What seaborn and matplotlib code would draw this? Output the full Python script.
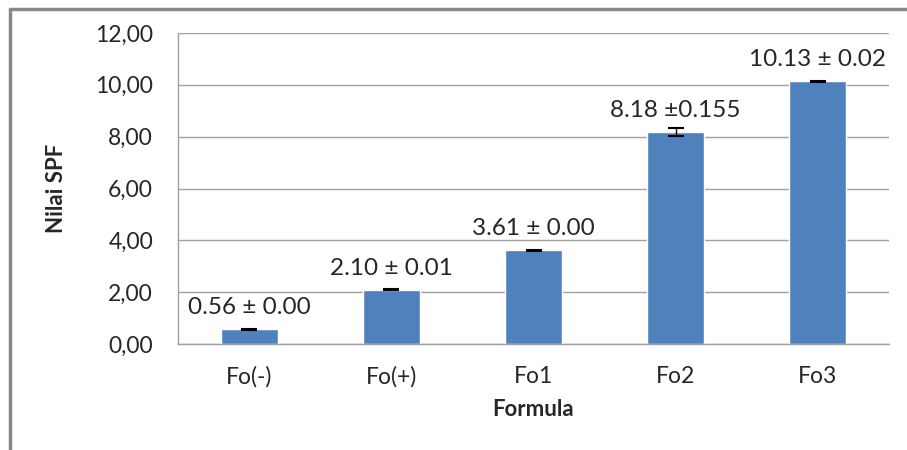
import numpy as np
import pandas as pd
import matplotlib
matplotlib.use("Agg")
import matplotlib.pyplot as plt
from matplotlib.lines import Line2D
import seaborn as sns

# data
formulas = ["Fo(-)", "Fo(+)", "Fo1", "Fo2", "Fo3"]
spf_values = [0.56, 2.10, 3.61, 8.18, 10.13]
spf_errors = [0.005, 0.01, 0.005, 0.155, 0.02]
value_labels = ["0.56 \u00b1 0.00", "2.10 \u00b1 0.01", "3.61 \u00b1 0.00",
                "8.18 \u00b10.155", "10.13 \u00b1 0.02"]
y_ticks = [0, 2, 4, 6, 8, 10, 12]

df = pd.DataFrame({"Formula": formulas, "Nilai SPF": spf_values})

sns.set_style("white")
plt.rcParams["font.family"] = ["Lato", "DejaVu Sans"]

fig = plt.figure(figsize=(9.07, 4.5), dpi=100)
ax = fig.add_axes([178 / 907, 1 - 344 / 450, (889 - 178) / 907, (344 - 33) / 450])

sns.barplot(data=df, x="Formula", y="Nilai SPF", color="#4F81BD",
            width=0.4, saturation=1, ax=ax, zorder=2)
xpos = np.arange(len(formulas))
ax.errorbar(xpos, spf_values, yerr=spf_errors, fmt="none", ecolor="black",
            elinewidth=1, capsize=6, capthick=1.5, zorder=3)

for x, v, lab in zip(xpos, spf_values, value_labels):
    ax.annotate(lab, (x, v), xytext=(0, 15.5), textcoords="offset points",
                ha="center", va="center", fontsize=17.5, color="#262626")

ax.set_ylim(0, 12)
ax.set_xlim(-0.5, len(formulas) - 0.5)
ax.set_yticks(y_ticks)
ax.set_yticklabels([f"{t:.2f}".replace(".", ",") for t in y_ticks], fontsize=16.5, color="#262626")
ax.set_xticks(xpos)
ax.set_xticklabels(formulas, fontsize=16.5, color="#262626")
ax.set_xticks(np.arange(-0.5, len(formulas)), minor=True)
ax.tick_params(axis="x", which="major", length=0, pad=16)
ax.tick_params(axis="x", which="minor", length=6, color="#A0A0A0", width=1)
ax.tick_params(axis="y", length=8, color="#A0A0A0", width=1, pad=10)
ax.grid(axis="y", color="#A0A0A0", linewidth=1, zorder=0)
ax.set_axisbelow(True)

for side in ["top", "right"]:
    ax.spines[side].set_visible(False)
for side in ["left", "bottom"]:
    ax.spines[side].set_color("#A0A0A0")
    ax.spines[side].set_linewidth(1)

ax.set_xlabel("Formula", fontsize=16, fontweight="bold", labelpad=8)
ax.set_ylabel("Nilai SPF", fontsize=16, fontweight="bold", labelpad=20)

# outer frame (top and left edges visible in the original)
fig.add_artist(Line2D([10 / 907, 1], [1 - 9 / 450, 1 - 9 / 450],
                      transform=fig.transFigure, color="#888888", linewidth=2.5))
fig.add_artist(Line2D([10 / 907, 10 / 907], [0, 1 - 9 / 450],
                      transform=fig.transFigure, color="#888888", linewidth=2.5))

fig.savefig("out.png", dpi=100)
